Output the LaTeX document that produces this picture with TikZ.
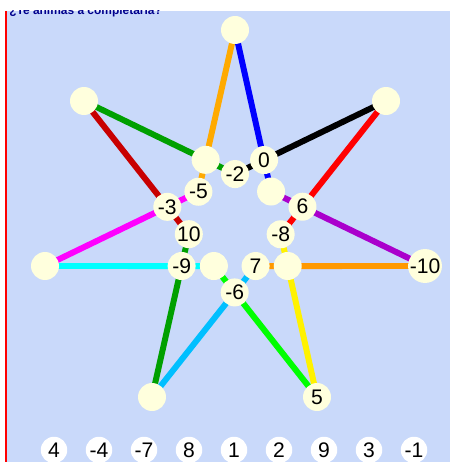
\documentclass[tikz,border=0pt]{standalone}
\usepackage{fontspec}
\setmainfont{Liberation Sans}
\usetikzlibrary{calc}

\definecolor{pagebg}{RGB}{201,217,250}
\definecolor{cream}{RGB}{255,255,221}
\definecolor{titleblue}{RGB}{0,0,140}
\definecolor{goldA}{RGB}{255,170,0}
\definecolor{goldB}{RGB}{255,153,0}
\definecolor{leaf}{RGB}{0,160,0}
\definecolor{wine}{RGB}{200,0,0}
\definecolor{plum}{RGB}{170,0,204}
\definecolor{sky}{RGB}{0,191,255}
\definecolor{aqua}{RGB}{0,255,255}
\definecolor{fuchsia}{RGB}{255,0,255}
\definecolor{neon}{RGB}{0,255,0}

\begin{document}
\begin{tikzpicture}[x=0.02cm, y=-0.02cm,
  spot/.style={circle, fill=cream, minimum size=0.56cm, inner sep=0pt,
    font=\fontsize{12}{13}\selectfont},
  spare/.style={spot, fill=white, minimum size=0.53cm},
  leg/.style={line width=3.4pt}]
\useasboundingbox (0,0) rectangle (450,462);
\fill[white] (0,0) rectangle (450,462);
\fill[pagebg] (7,11) rectangle (450,462);
\draw[red, line width=0.04cm] (6,11) -- (6,462);
\begin{scope}
  \clip (7,11) rectangle (450,462);
  \node[anchor=base west, inner sep=0pt, text=titleblue,
    font=\bfseries\fontsize{6.8}{8}\selectfont] (title) at (9,15) {¿Te animas a completarla?};
\end{scope}
\foreach \n/\x/\y in {0/235/30, 1/386/101, 2/425/266, 3/317/397, 4/152/397, 5/45/266, 6/84/101}
  \coordinate (v\n) at (\x,\y);
\coordinate (c05) at (intersection of v0--v3 and v5--v1);
\coordinate (c06) at (intersection of v0--v3 and v6--v2);
\coordinate (c01) at (intersection of v0--v3 and v1--v4);
\coordinate (c02) at (intersection of v0--v3 and v2--v5);
\coordinate (c16) at (intersection of v1--v4 and v6--v2);
\coordinate (c12) at (intersection of v1--v4 and v2--v5);
\coordinate (c13) at (intersection of v1--v4 and v3--v6);
\coordinate (c23) at (intersection of v2--v5 and v3--v6);
\coordinate (c24) at (intersection of v2--v5 and v4--v0);
\coordinate (c34) at (intersection of v3--v6 and v4--v0);
\coordinate (c35) at (intersection of v3--v6 and v5--v1);
\coordinate (c45) at (intersection of v4--v0 and v5--v1);
\coordinate (c46) at (intersection of v4--v0 and v6--v2);
\coordinate (c56) at (intersection of v5--v1 and v6--v2);
\foreach \from/\to/\col in {v0/c06/blue, v3/c01/yellow, v1/c01/red, v4/c12/sky,
    v2/c12/goldB, v5/c23/aqua, v3/c23/neon, v6/c34/wine, v4/c34/leaf,
    v0/c45/goldA, v5/c45/fuchsia, v1/c56/black, v6/c56/leaf, v2/c06/plum}
  \draw[leg, \col] (\from) -- (\to);
\foreach \p/\lab in {v0/{}, v1/{}, v2/-10, v3/5, v4/{}, v5/{}, v6/{},
    c05/0, c06/{}, c01/-8, c02/{}, c16/6, c12/7, c13/-6,
    c23/{}, c24/-9, c34/10, c35/-3, c45/-5, c46/{}, c56/-2}
  \node[spot] (n\p) at (\p) {\lab};
\foreach \v [count=\i] in {4,-4,-7,8,1,2,9,3,-1}
  \node[spare] (b\i) at ({9+45*\i},450) {\v};
\end{tikzpicture}
\end{document}
